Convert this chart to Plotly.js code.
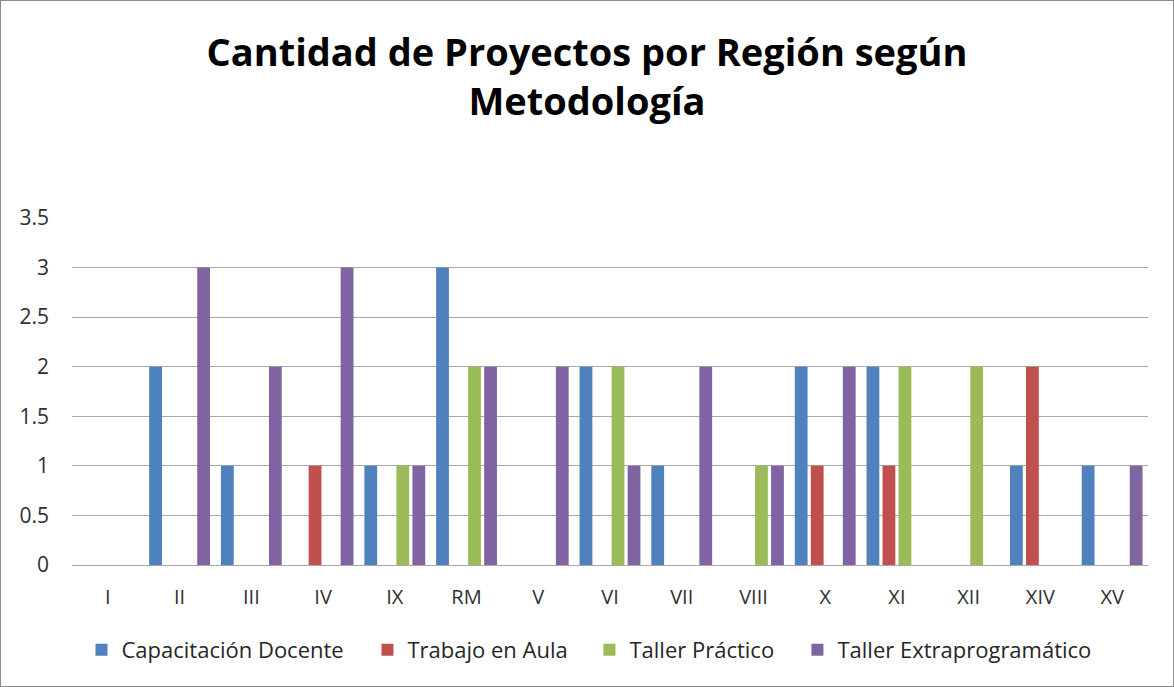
<!DOCTYPE html>
<html>
<head>
<meta charset="utf-8">
<script src="https://cdn.plot.ly/plotly-3.0.1.min.js"></script>
<style>
  html, body { margin: 0; padding: 0; background: #fff; }
  #chart { width: 1172px; height: 685px; border: 1px solid #8c8c8c; }
</style>
</head>
<body>
<div id="chart"></div>
<script>
const regiones = ["I", "II", "III", "IV", "IX", "RM", "V", "VI", "VII", "VIII", "X", "XI", "XII", "XIV", "XV"];
const capacitacionDocente   = [0, 2, 1, 0, 1, 3, 0, 2, 1, 0, 2, 2, 0, 1, 1];
const trabajoEnAula         = [0, 0, 0, 1, 0, 0, 0, 0, 0, 0, 1, 1, 0, 2, 0];
const tallerPractico        = [0, 0, 0, 0, 1, 2, 0, 2, 0, 1, 0, 2, 2, 0, 0];
const tallerExtraprogramatico = [0, 3, 2, 3, 1, 2, 2, 1, 2, 1, 2, 0, 0, 0, 1];
const yTicks = [0, 0.5, 1, 1.5, 2, 2.5, 3, 3.5];
const yTickText = ["0", "0.5", "1", "1.5", "2", "2.5", "3", "3.5"];
const seriesNames = ["Capacitación Docente", "Trabajo en Aula", "Taller Práctico", "Taller Extraprogramático"];

const seriesValues = [capacitacionDocente, trabajoEnAula, tallerPractico, tallerExtraprogramatico];
const seriesColors = ["#4F81BD", "#C0504D", "#9BBB59", "#8064A2"];
const legendIds = ["legend", "legend2", "legend3", "legend4"];
const legendX = [0.0088, 0.2746, 0.4809, 0.6742];

const traces = seriesNames.map((name, i) => ({
  type: "bar",
  name: name,
  x: regiones,
  y: seriesValues[i],
  legend: legendIds[i],
  marker: {color: seriesColors[i], line: {width: 0}}
}));

const font = "Open Sans, Noto Sans, DejaVu Sans, sans-serif";

const layout = {
  width: 1172,
  height: 685,
  margin: {l: 71, r: 25, t: 217, b: 121},
  paper_bgcolor: "#ffffff",
  plot_bgcolor: "#ffffff",
  barmode: "group",
  bargap: 0.107,
  bargroupgap: 0.2,
  title: {
    text: "<b>Cantidad de Proyectos por Región según<br>Metodología</b>",
    font: {family: font, size: 38, color: "#000000"},
    x: 0.5, xanchor: "center",
    y: 0.905, yanchor: "middle",
    yref: "container"
  },
  xaxis: {
    type: "category",
    showgrid: false,
    showline: false,
    zeroline: false,
    ticks: "",
    tickfont: {family: font, size: 20, color: "#303030"},
    ticklabelstandoff: 18
  },
  yaxis: {
    range: [0, 3.5],
    tickvals: yTicks,
    ticktext: yTickText,
    showgrid: true,
    gridcolor: "#a8a8a8",
    gridwidth: 1,
    zeroline: true,
    zerolinecolor: "#a8a8a8",
    zerolinewidth: 1,
    showline: false,
    ticks: "",
    tickfont: {family: font, size: 21, color: "#303030"},
    ticklabelstandoff: 22
  },
  showlegend: true
};

legendIds.forEach((id, i) => {
  layout[id] = {
    orientation: "h",
    x: legendX[i], xanchor: "left",
    y: 0.0526, yanchor: "middle",
    yref: "container",
    font: {family: font, size: 22, color: "#262626"},
    itemwidth: 30,
    bgcolor: "rgba(0,0,0,0)"
  };
});

Plotly.newPlot("chart", traces, layout, {displayModeBar: false, staticPlot: true});
</script>
</body>
</html>
